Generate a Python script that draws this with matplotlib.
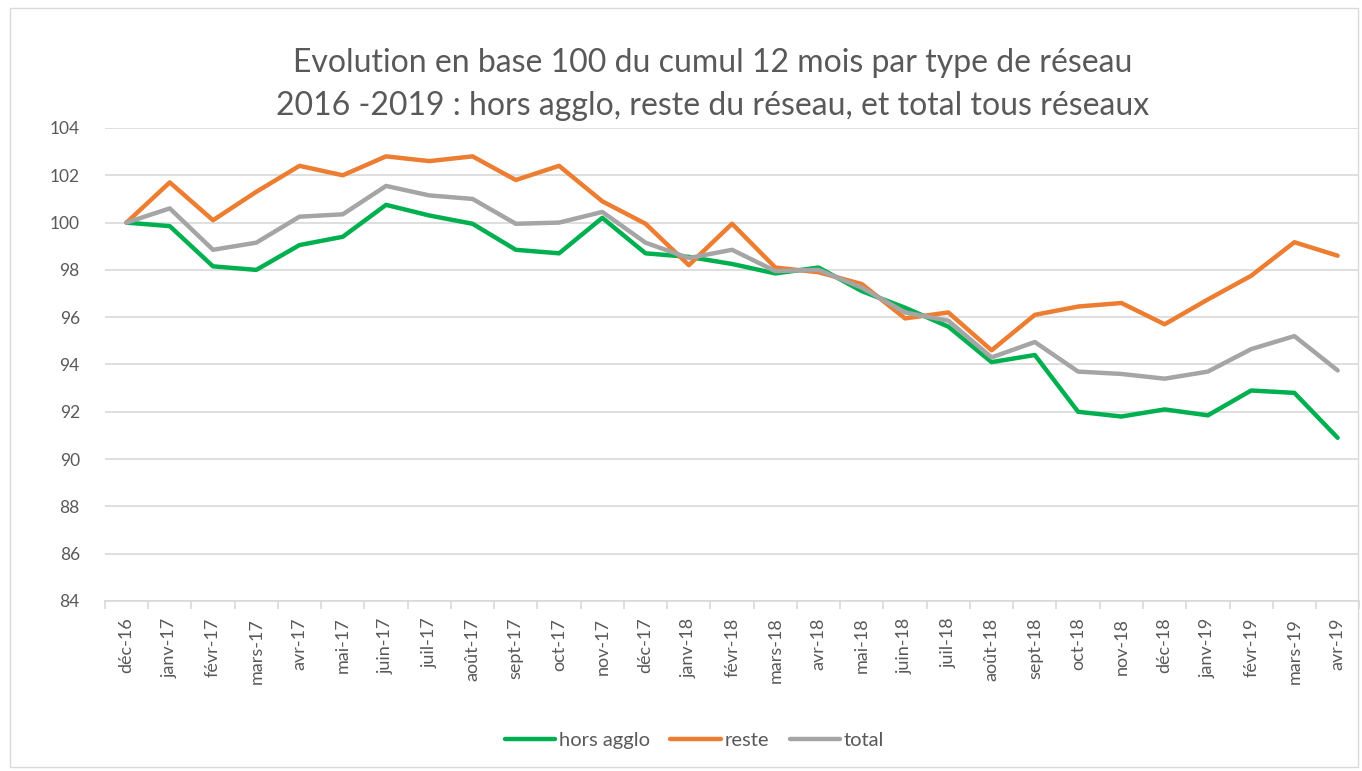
import matplotlib.pyplot as plt
import numpy as np
from matplotlib.patches import Rectangle
from matplotlib.ticker import FixedLocator, NullFormatter

mois = ["déc-16", "janv-17", "févr-17", "mars-17", "avr-17", "mai-17", "juin-17",
        "juil-17", "août-17", "sept-17", "oct-17", "nov-17", "déc-17", "janv-18",
        "févr-18", "mars-18", "avr-18", "mai-18", "juin-18", "juil-18", "août-18",
        "sept-18", "oct-18", "nov-18", "déc-18", "janv-19", "févr-19", "mars-19",
        "avr-19"]

hors_agglo = [100.0, 99.85, 98.15, 98.0, 99.05, 99.4, 100.75, 100.3, 99.95, 98.85,
              98.7, 100.2, 98.7, 98.55, 98.25, 97.85, 98.1, 97.1, 96.4, 95.6,
              94.1, 94.4, 92.0, 91.8, 92.1, 91.85, 92.9, 92.8, 90.9]
reste = [100.0, 101.7, 100.1, 101.3, 102.4, 102.0, 102.8, 102.6, 102.8, 101.8,
         102.4, 100.9, 99.95, 98.2, 99.95, 98.1, 97.9, 97.4, 95.95, 96.2,
         94.6, 96.1, 96.45, 96.6, 95.7, 96.75, 97.75, 99.17, 98.6]
total = [100.0, 100.6, 98.85, 99.15, 100.25, 100.35, 101.55, 101.15, 101.0, 99.95,
         100.0, 100.45, 99.15, 98.5, 98.85, 97.95, 98.0, 97.25, 96.2, 95.85,
         94.3, 94.95, 93.7, 93.6, 93.4, 93.7, 94.65, 95.2, 93.75]

plt.rcParams['font.family'] = ['Lato', 'DejaVu Sans']
gris_texte = '#595959'

fig = plt.figure(figsize=(13.62, 7.71), dpi=100, facecolor='white')
ax = fig.add_axes([0.077, 0.2205, 0.921, 0.6135])

# cadre du graphique
fig.patches.append(Rectangle((0.007, 0.005), 0.99, 0.985, transform=fig.transFigure,
                             fill=False, edgecolor='#D9D9D9', linewidth=1))

x = np.arange(len(mois))
ax.plot(x, hors_agglo, color='#00B050', linewidth=3.2, label='hors agglo',
        solid_capstyle='round', solid_joinstyle='round')
ax.plot(x, reste, color='#ED7D31', linewidth=3.2, label='reste',
        solid_capstyle='round', solid_joinstyle='round')
ax.plot(x, total, color='#A5A5A5', linewidth=3.2, label='total',
        solid_capstyle='round', solid_joinstyle='round')

ax.set_xlim(-0.5, len(mois) - 0.5)
ax.set_ylim(84, 104)
ax.set_yticks(np.arange(84, 105, 2))
ax.yaxis.grid(True, color='#D9D9D9', linewidth=1.2)
ax.set_axisbelow(True)

for s in ['top', 'right', 'left']:
    ax.spines[s].set_visible(False)
ax.spines['bottom'].set_color('#D9D9D9')
ax.spines['bottom'].set_linewidth(1.2)

ax.set_xticks(x)
ax.set_xticklabels(mois, rotation=90, fontsize=13, color=gris_texte)
ax.tick_params(axis='x', which='major', length=0, pad=12)
ax.xaxis.set_minor_locator(FixedLocator(np.arange(-0.5, len(mois), 1)))
ax.xaxis.set_minor_formatter(NullFormatter())
ax.tick_params(axis='x', which='minor', length=6, color='#D9D9D9', width=1.2)
ax.tick_params(axis='y', length=0, labelsize=12.5, labelcolor=gris_texte, pad=18)

fig.text(0.523, 0.918, "Evolution en base 100 du cumul 12 mois par type de réseau",
         ha='center', va='center', fontsize=23, color=gris_texte)
fig.text(0.523, 0.862, "2016 -2019 : hors agglo, reste du réseau, et total tous réseaux",
         ha='center', va='center', fontsize=23, color=gris_texte)

fig.legend(loc='center', bbox_to_anchor=(0.51, 0.039), ncol=3, frameon=False,
           fontsize=14.5, labelcolor=gris_texte, handlelength=2.5, handletextpad=0.2,
           columnspacing=1.0)

plt.savefig('out.png', dpi=100)
